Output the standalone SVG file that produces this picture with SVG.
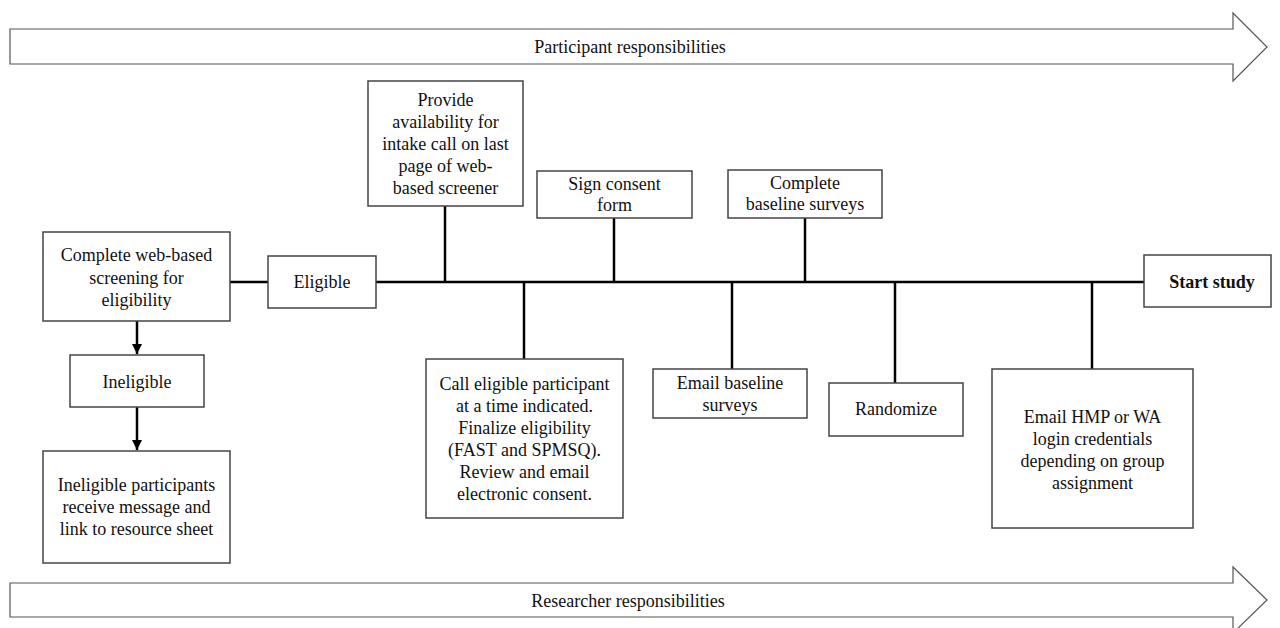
<svg xmlns="http://www.w3.org/2000/svg" width="1280" height="628" viewBox="0 0 1280 628">
<style>
.box{fill:#fff;stroke:#444;stroke-width:1.5}
.band{fill:#fff;stroke:#555;stroke-width:1.2}
.t{font-family:"Liberation Serif","Times New Roman",serif;font-size:18px;fill:#111;text-anchor:middle}
.b{font-weight:bold}
.c{stroke:#000;stroke-width:2.5;fill:none}
</style>
<defs>
<marker id="ah" viewBox="0 0 10 10" refX="10" refY="5" markerWidth="4" markerHeight="4" orient="auto" markerUnits="strokeWidth">
<path d="M0,0 L10,5 L0,10 z" fill="#000"/>
</marker>
</defs>
<rect width="1280" height="628" fill="#fff"/>
<g id="participant-band">
<path class="band" d="M10,29 H1233 V13 L1267,47 L1233,81 V64 H10 Z"/>
<text class="t" x="630" y="53">Participant responsibilities</text>
</g>
<g id="researcher-band">
<path class="band" d="M10,583 H1233 V567 L1267,600 L1233,633 V617 H10 Z"/>
<text class="t" x="628" y="607">Researcher responsibilities</text>
</g>
<g id="connectors">
<line class="c" x1="230" y1="282" x2="268" y2="282"/>
<line class="c" x1="376" y1="282" x2="1144" y2="282"/>
<line class="c" x1="445" y1="206" x2="445" y2="282"/>
<line class="c" x1="524" y1="282" x2="524" y2="359"/>
<line class="c" x1="614" y1="218" x2="614" y2="282"/>
<line class="c" x1="732" y1="282" x2="732" y2="369"/>
<line class="c" x1="805" y1="218" x2="805" y2="282"/>
<line class="c" x1="895" y1="282" x2="895" y2="383"/>
<line class="c" x1="1092" y1="282" x2="1092" y2="369"/>
<line class="c" x1="137" y1="321" x2="137" y2="354" marker-end="url(#ah)"/>
<line class="c" x1="137" y1="407" x2="137" y2="450" marker-end="url(#ah)"/>
</g>
<g id="screening">
<rect class="box" x="43" y="232" width="187" height="89"/>
<text class="t" x="136.5" y="261">Complete web-based</text>
<text class="t" x="136.5" y="284">screening for</text>
<text class="t" x="136.5" y="306">eligibility</text>
</g>
<g id="eligible">
<rect class="box" x="268" y="256" width="108" height="52"/>
<text class="t" x="322" y="288">Eligible</text>
</g>
<g id="ineligible">
<rect class="box" x="70" y="355" width="134" height="52"/>
<text class="t" x="137" y="388">Ineligible</text>
</g>
<g id="ineligible-msg">
<rect class="box" x="43" y="451" width="187" height="112"/>
<text class="t" x="136.5" y="491">Ineligible participants</text>
<text class="t" x="136.5" y="513">receive message and</text>
<text class="t" x="136.5" y="535">link to resource sheet</text>
</g>
<g id="provide-availability">
<rect class="box" x="368" y="81" width="155" height="125"/>
<text class="t" x="445.5" y="106">Provide</text>
<text class="t" x="445.5" y="128">availability for</text>
<text class="t" x="445.5" y="150">intake call on last</text>
<text class="t" x="445.5" y="172">page of web-</text>
<text class="t" x="445.5" y="194">based screener</text>
</g>
<g id="sign-consent">
<rect class="box" x="537" y="171" width="155" height="47"/>
<text class="t" x="614.5" y="190">Sign consent</text>
<text class="t" x="614.5" y="211">form</text>
</g>
<g id="complete-baseline">
<rect class="box" x="728" y="170" width="154" height="48"/>
<text class="t" x="805" y="189">Complete</text>
<text class="t" x="805" y="210">baseline surveys</text>
</g>
<g id="call-eligible">
<rect class="box" x="426" y="359" width="197" height="159"/>
<text class="t" x="524.5" y="390">Call eligible participant</text>
<text class="t" x="524.5" y="412">at a time indicated.</text>
<text class="t" x="524.5" y="434">Finalize eligibility</text>
<text class="t" x="524.5" y="456">(FAST and SPMSQ).</text>
<text class="t" x="524.5" y="478">Review and email</text>
<text class="t" x="524.5" y="500">electronic consent.</text>
</g>
<g id="email-baseline">
<rect class="box" x="653" y="369" width="154" height="49"/>
<text class="t" x="730" y="389">Email baseline</text>
<text class="t" x="730" y="411">surveys</text>
</g>
<g id="randomize">
<rect class="box" x="829" y="383" width="134" height="53"/>
<text class="t" x="896" y="415">Randomize</text>
</g>
<g id="email-credentials">
<rect class="box" x="992" y="369" width="201" height="159"/>
<text class="t" x="1092.5" y="423">Email HMP or WA</text>
<text class="t" x="1092.5" y="445">login credentials</text>
<text class="t" x="1092.5" y="467">depending on group</text>
<text class="t" x="1092.5" y="489">assignment</text>
</g>
<g id="start-study">
<rect class="box" x="1144" y="255" width="127" height="52"/>
<text class="t b" x="1212" y="288">Start study</text>
</g>
</svg>
